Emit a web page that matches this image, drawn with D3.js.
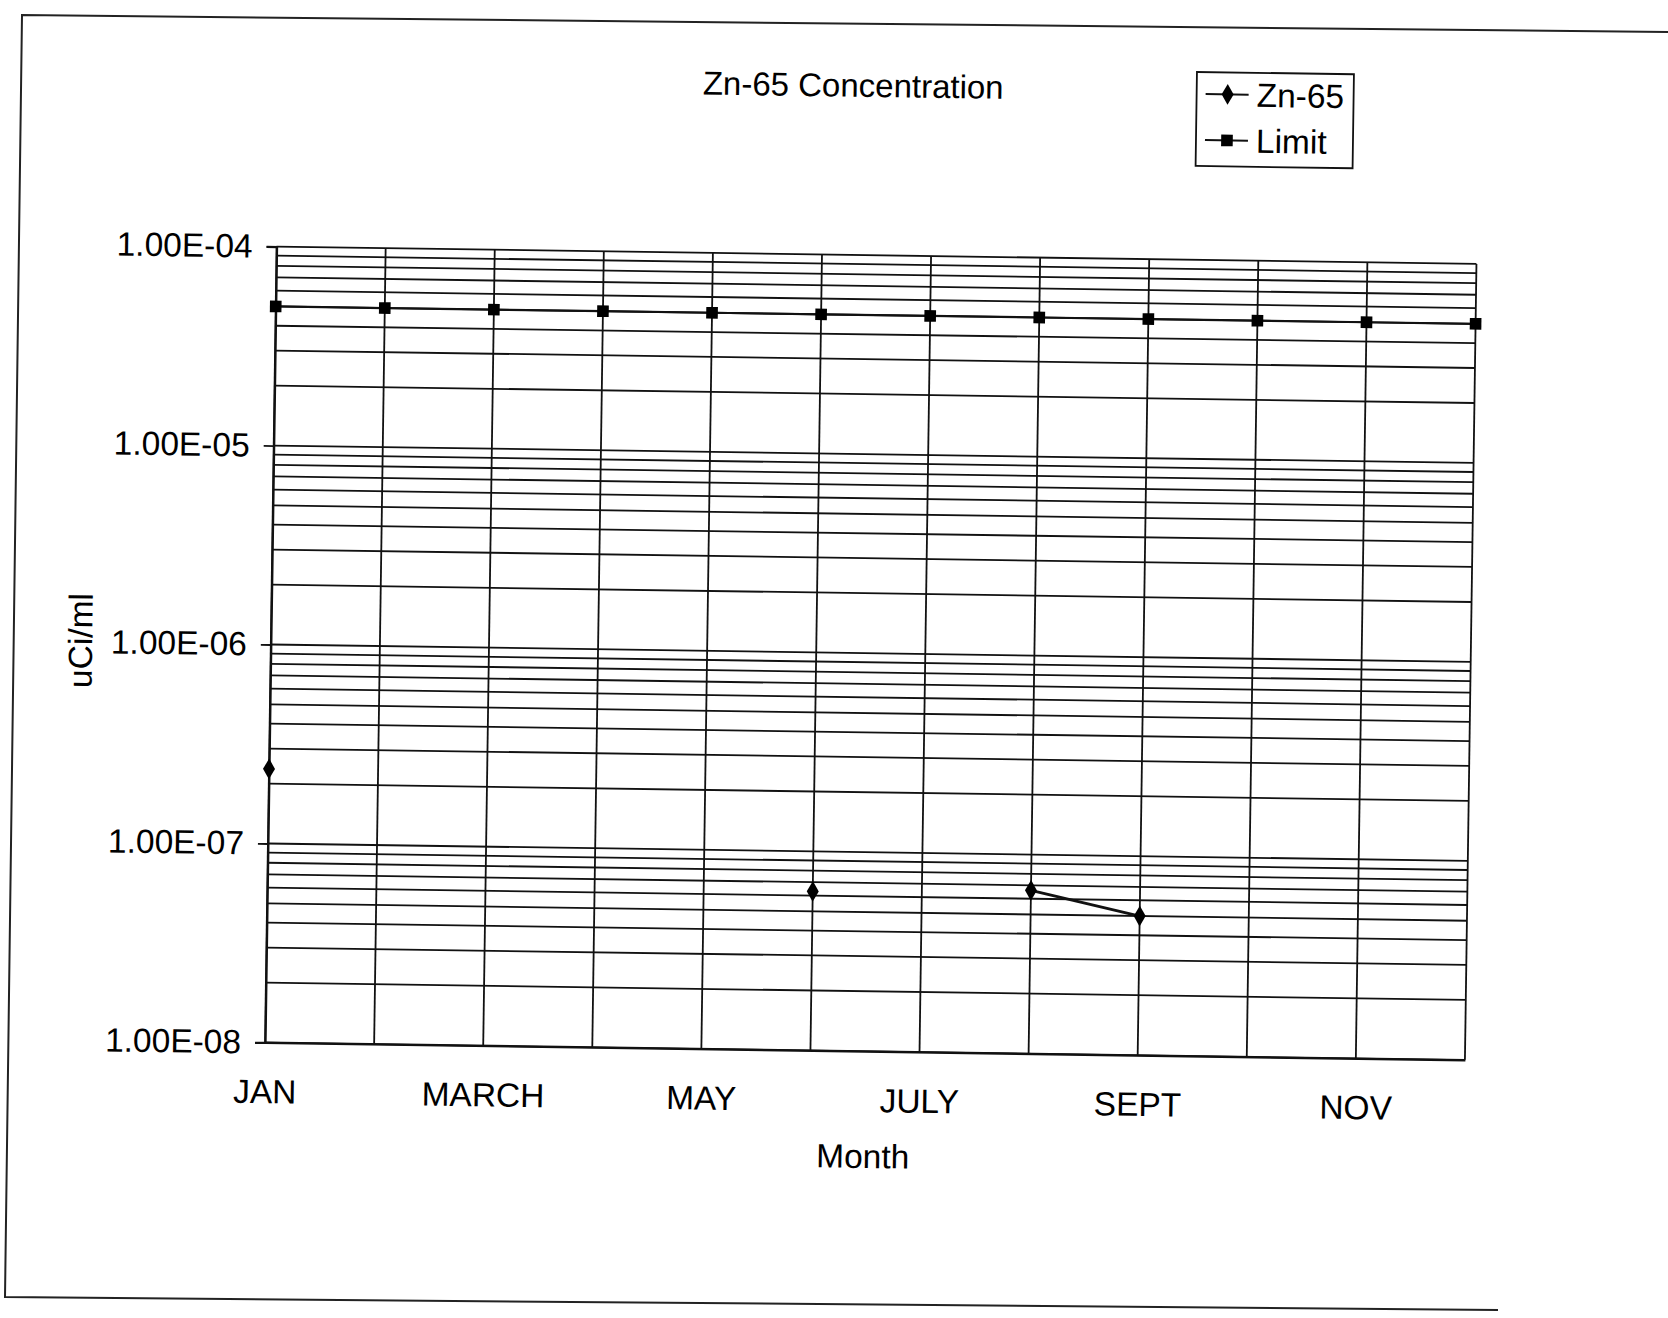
<!DOCTYPE html>
<html><head><meta charset="utf-8">
<script src="https://cdn.jsdelivr.net/npm/d3@7/dist/d3.min.js"></script>
<style>body{margin:0;background:#fff}</style>
</head><body>
<svg id="chart" width="1668" height="1318"></svg>
<script>
// ---- data ----
const months = ["JAN","FEB","MARCH","APRIL","MAY","JUNE","JULY","AUG","SEPT","OCT","NOV","DEC"];
const shownMonths = ["JAN","MARCH","MAY","JULY","SEPT","NOV"];
const zn65Values = [2.37e-7, null, null, null, null, 6.3e-8, null, 6.6e-8, 5.0e-8, null, null, null];
const limitValues = [5.0e-5, 5.0e-5, 5.0e-5, 5.0e-5, 5.0e-5, 5.0e-5, 5.0e-5, 5.0e-5, 5.0e-5, 5.0e-5, 5.0e-5, 5.0e-5];
const yTickValues = [1e-4, 1e-5, 1e-6, 1e-7, 1e-8];
const yTickLabels = ["1.00E-04","1.00E-05","1.00E-06","1.00E-07","1.00E-08"];
const seriesNames = ["Zn-65","Limit"];

// ---- layout ----
const W = 1668, H = 1318;
const plot = {x0: 270.75, x1: 1470.75, y0: 255.2, y1: 1051.2};
const rot = {a: 0.83, cx: 870.75, cy: 653.2};
const FONT = "'Liberation Sans', Arial, Helvetica, sans-serif";
const INK = "#111";
const FS = 33.5;

const svg = d3.select("#chart");
svg.append("rect").attr("width", W).attr("height", H).attr("fill", "#fff");

// scanned page border (outside chart group)
svg.append("path")
  .attr("d", "M1668,32 L22,15 L5,1297 L1498,1310")
  .attr("fill", "none").attr("stroke", "#222").attr("stroke-width", 2);

const g = svg.append("g").attr("transform", `rotate(${rot.a},${rot.cx},${rot.cy})`);

const x = d3.scalePoint().domain(months).range([plot.x0, plot.x1]).padding(0);
const y = d3.scaleLog().domain([1e-8, 1e-4]).range([plot.y1, plot.y0]);

// horizontal gridlines (major + minor)
const gridVals = [];
for (let e = -8; e < -4; e++) for (let m = 1; m < 10; m++) gridVals.push(m * Math.pow(10, e));
gridVals.push(1e-4);
g.append("g").selectAll("line").data(gridVals).join("line")
  .attr("x1", plot.x0).attr("x2", plot.x1)
  .attr("y1", d => y(d)).attr("y2", d => y(d))
  .attr("stroke", INK).attr("stroke-width", 1.8);

// vertical gridlines
g.append("g").selectAll("line").data(months).join("line")
  .attr("x1", d => x(d)).attr("x2", d => x(d))
  .attr("y1", plot.y0).attr("y2", plot.y1)
  .attr("stroke", INK).attr("stroke-width", 1.8);

// y axis
const yAxis = g.append("g").attr("transform", `translate(${plot.x0},0)`)
  .call(d3.axisLeft(y).tickValues(yTickValues).tickFormat((d, i) => yTickLabels[i]).tickSize(10).tickPadding(14));
yAxis.select(".domain").attr("stroke", INK).attr("stroke-width", 2.2);
yAxis.selectAll(".tick line").attr("stroke", INK).attr("stroke-width", 1.8);
yAxis.selectAll("text").attr("font-family", FONT).attr("font-size", FS).attr("fill", "#000");

// x axis
const xAxis = g.append("g").attr("transform", `translate(0,${plot.y1})`)
  .call(d3.axisBottom(x).tickValues(shownMonths).tickSize(0).tickPadding(37));
xAxis.select(".domain").attr("stroke", INK).attr("stroke-width", 2.2);
xAxis.selectAll("text").attr("font-family", FONT).attr("font-size", FS).attr("fill", "#000");

// axis titles
g.append("text").attr("x", 870).attr("y", 1168).attr("text-anchor", "middle")
  .attr("font-family", FONT).attr("font-size", FS).text("Month");
g.append("text").attr("transform", "translate(92,652) rotate(-90)").attr("text-anchor", "middle")
  .attr("font-family", FONT).attr("font-size", FS).text("uCi/ml");

// chart title
g.append("text").attr("x", 845).attr("y", 97).attr("text-anchor", "middle")
  .attr("font-family", FONT).attr("font-size", 33).text("Zn-65 Concentration");

// series
const line = d3.line().defined(d => d.v != null).x(d => x(d.m)).y(d => y(d.v));
const znData = months.map((m, i) => ({m, v: zn65Values[i]}));
const limData = months.map((m, i) => ({m, v: limitValues[i]}));

g.append("path").datum(limData).attr("d", line)
  .attr("fill", "none").attr("stroke", INK).attr("stroke-width", 2.2);
g.append("path").datum(znData).attr("d", line)
  .attr("fill", "none").attr("stroke", INK).attr("stroke-width", 2.8);

const sq = d3.symbol().type(d3.symbolSquare).size(135);
const dm = d3.symbol().type(d3.symbolDiamond).size(125);
g.append("g").selectAll("path").data(limData).join("path")
  .attr("transform", d => `translate(${x(d.m)},${y(d.v)})`).attr("d", sq).attr("fill", "#000");
g.append("g").selectAll("path").data(znData.filter(d => d.v != null)).join("path")
  .attr("transform", d => `translate(${x(d.m)},${y(d.v)})`).attr("d", dm).attr("fill", "#000");

// legend
const lg = g.append("g").attr("transform", "translate(1188.5,67.3)");
lg.append("rect").attr("width", 157).attr("height", 94)
  .attr("fill", "#fff").attr("stroke", INK).attr("stroke-width", 1.8);
const items = [{name: seriesNames[0], sym: dm, y: 22}, {name: seriesNames[1], sym: sq, y: 68}];
items.forEach(it => {
  lg.append("line").attr("x1", 9).attr("x2", 52).attr("y1", it.y).attr("y2", it.y)
    .attr("stroke", INK).attr("stroke-width", 2);
  lg.append("path").attr("transform", `translate(31,${it.y})`).attr("d", it.sym).attr("fill", "#000");
  lg.append("text").attr("x", 60).attr("y", it.y + 12)
    .attr("font-family", FONT).attr("font-size", FS).text(it.name);
});
</script>
</body></html>
